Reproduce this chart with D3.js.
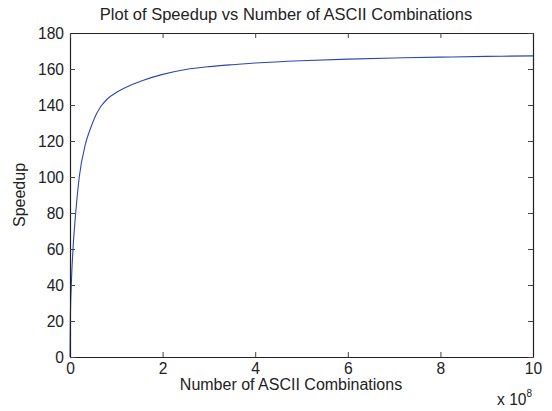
<!DOCTYPE html>
<html>
<head>
<meta charset="utf-8">
<script src="https://cdn.jsdelivr.net/npm/d3@7"></script>
<style>
  body { margin: 0; background: #fff; }
  svg { font-family: "Liberation Sans", Arial, sans-serif; }
  .tick text { font-size: 15.6px; fill: #222; }
</style>
</head>
<body>
<div id="chart"></div>
<script>
// combinations, in units of 1e8
var combos = [0, 0.007, 0.028, 0.065, 0.123, 0.2, 0.33, 0.45, 0.56, 0.67, 0.8, 1.0, 1.2, 1.57, 2, 2.5, 3, 3.5, 4, 5, 6, 7, 8, 9, 10];
var speedup = [0, 20, 40, 60, 80, 100, 118, 127.5, 134.5, 139.3, 143.2, 146.9, 149.7, 153.6, 157, 159.7, 161.3, 162.4, 163.3, 164.6, 165.5, 166.1, 166.6, 167.0, 167.3];
var xTicks = [0, 2, 4, 6, 8, 10];
var yTicks = [0, 20, 40, 60, 80, 100, 120, 140, 160, 180];

var w = 552, h = 411;
var plotL = 70, plotR = 533, plotT = 33, plotB = 357;

var svg = d3.select("#chart").append("svg")
  .attr("width", w)
  .attr("height", h);

var xScale = d3.scaleLinear().domain([0, 10]).range([plotL, plotR]);
var yScale = d3.scaleLinear().domain([0, 180]).range([plotB, plotT]);

var points = combos.map(function(c, i) { return [c, speedup[i]]; });

// inward ticks on all four sides, like matlab
var xAxis = d3.axisBottom(xScale).tickValues(xTicks).tickSizeInner(-5).tickSizeOuter(0).tickPadding(8);
var yAxis = d3.axisLeft(yScale).tickValues(yTicks).tickSizeInner(-5).tickSizeOuter(0).tickPadding(8);
var xTop = d3.axisTop(xScale).tickValues(xTicks).tickSizeInner(-5).tickSizeOuter(0).tickFormat("");
var yRight = d3.axisRight(yScale).tickValues(yTicks).tickSizeInner(-5).tickSizeOuter(0).tickFormat("");

var line = d3.line()
  .x(function(d) { return xScale(d[0]); })
  .y(function(d) { return yScale(d[1]); })
  .curve(d3.curveMonotoneX);

svg.append("path")
  .datum(points)
  .attr("d", line)
  .attr("fill", "none")
  .attr("stroke", "#2a48b0")
  .attr("stroke-width", 1.1);

var gx = svg.append("g").attr("transform", "translate(0," + plotB + ")").call(xAxis);
var gy = svg.append("g").attr("transform", "translate(" + plotL + ",0)").call(yAxis);
var gxt = svg.append("g").attr("transform", "translate(0," + plotT + ")").call(xTop);
var gyr = svg.append("g").attr("transform", "translate(" + plotR + ",0)").call(yRight);

[gx, gy, gxt, gyr].forEach(function(g) {
  g.attr("font-family", null).attr("font-size", null);
  g.selectAll(".domain").attr("stroke", "#222").attr("stroke-width", 1.2);
  g.selectAll(".tick line").attr("stroke", "#444");
});
gy.selectAll(".tick text").attr("x", -6);
gx.selectAll(".tick text").attr("y", 6);

svg.append("text")
  .attr("x", 286).attr("y", 20)
  .attr("text-anchor", "middle")
  .attr("font-size", 16.5).attr("fill", "#222")
  .text("Plot of Speedup vs Number of ASCII Combinations");

svg.append("text")
  .attr("x", 291).attr("y", 390)
  .attr("text-anchor", "middle")
  .attr("font-size", 16).attr("fill", "#222")
  .text("Number of ASCII Combinations");

svg.append("text")
  .attr("transform", "translate(25," + ((plotT + plotB) / 2) + ") rotate(-90)")
  .attr("text-anchor", "middle")
  .attr("font-size", 16).attr("fill", "#222")
  .text("Speedup");

var mult = svg.append("text")
  .attr("x", 497).attr("y", 405)
  .attr("font-size", 15.6).attr("fill", "#222");
mult.append("tspan").text("x 10");
mult.append("tspan").attr("dy", -8).attr("font-size", 10).text("8");
</script>
</body>
</html>
